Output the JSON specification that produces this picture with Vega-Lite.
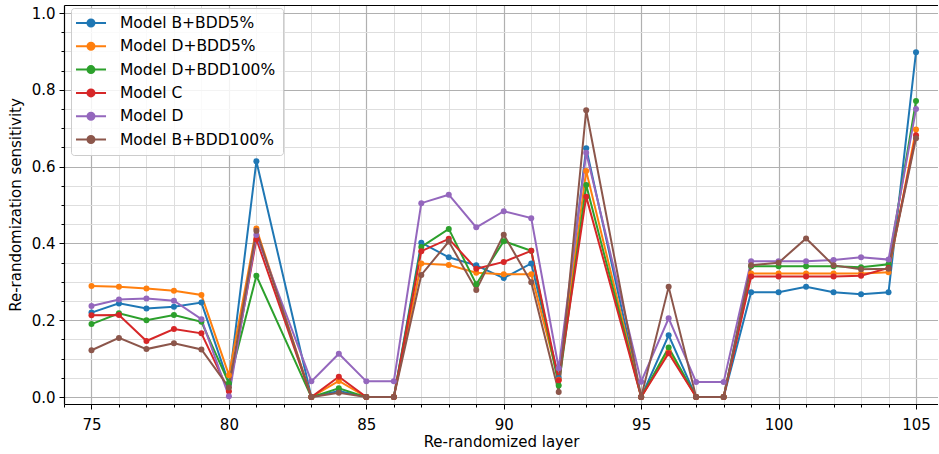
{
  "$schema": "https://vega.github.io/schema/vega-lite/v6.json",
  "width": 874,
  "height": 399,
  "padding": {"left": 8, "top": 5, "right": 0, "bottom": 5},
  "config": {
    "font": "DejaVu Sans",
    "view": {"stroke": null},
    "axis": {
      "domainColor": "#000000",
      "domainWidth": 1.2,
      "tickColor": "#000000",
      "tickWidth": 1,
      "labelColor": "#000000",
      "labelFontSize": 15,
      "titleFontSize": 15,
      "titleFontWeight": "normal",
      "titleColor": "#000000",
      "labelOverlap": false,
      "labelFlush": false
    }
  },
  "data": {
    "values": [
      {"layer": 75, "Model B+BDD5%": 0.220, "Model D+BDD5%": 0.289, "Model D+BDD100%": 0.190, "Model C": 0.213, "Model D": 0.237, "Model B+BDD100%": 0.122},
      {"layer": 76, "Model B+BDD5%": 0.244, "Model D+BDD5%": 0.287, "Model D+BDD100%": 0.218, "Model C": 0.214, "Model D": 0.254, "Model B+BDD100%": 0.154},
      {"layer": 77, "Model B+BDD5%": 0.231, "Model D+BDD5%": 0.283, "Model D+BDD100%": 0.200, "Model C": 0.146, "Model D": 0.257, "Model B+BDD100%": 0.125},
      {"layer": 78, "Model B+BDD5%": 0.235, "Model D+BDD5%": 0.277, "Model D+BDD100%": 0.214, "Model C": 0.177, "Model D": 0.251, "Model B+BDD100%": 0.140},
      {"layer": 79, "Model B+BDD5%": 0.246, "Model D+BDD5%": 0.266, "Model D+BDD100%": 0.196, "Model C": 0.166, "Model D": 0.203, "Model B+BDD100%": 0.124},
      {"layer": 80, "Model B+BDD5%": 0.035, "Model D+BDD5%": 0.057, "Model D+BDD100%": 0.036, "Model C": 0.015, "Model D": 0.002, "Model B+BDD100%": 0.025},
      {"layer": 81, "Model B+BDD5%": 0.614, "Model D+BDD5%": 0.439, "Model D+BDD100%": 0.316, "Model C": 0.411, "Model D": 0.422, "Model B+BDD100%": 0.433},
      {"layer": 83, "Model B+BDD5%": 0.0, "Model D+BDD5%": 0.0, "Model D+BDD100%": 0.0, "Model C": 0.0, "Model D": 0.041, "Model B+BDD100%": 0.0},
      {"layer": 84, "Model B+BDD5%": 0.016, "Model D+BDD5%": 0.042, "Model D+BDD100%": 0.023, "Model C": 0.053, "Model D": 0.113, "Model B+BDD100%": 0.011},
      {"layer": 85, "Model B+BDD5%": 0.0, "Model D+BDD5%": 0.0, "Model D+BDD100%": 0.0, "Model C": 0.0, "Model D": 0.041, "Model B+BDD100%": 0.0},
      {"layer": 86, "Model B+BDD5%": 0.0, "Model D+BDD5%": 0.0, "Model D+BDD100%": 0.0, "Model C": 0.0, "Model D": 0.041, "Model B+BDD100%": 0.0},
      {"layer": 87, "Model B+BDD5%": 0.402, "Model D+BDD5%": 0.348, "Model D+BDD100%": 0.391, "Model C": 0.380, "Model D": 0.505, "Model B+BDD100%": 0.318},
      {"layer": 88, "Model B+BDD5%": 0.364, "Model D+BDD5%": 0.344, "Model D+BDD100%": 0.438, "Model C": 0.412, "Model D": 0.527, "Model B+BDD100%": 0.405},
      {"layer": 89, "Model B+BDD5%": 0.343, "Model D+BDD5%": 0.324, "Model D+BDD100%": 0.294, "Model C": 0.334, "Model D": 0.442, "Model B+BDD100%": 0.279},
      {"layer": 90, "Model B+BDD5%": 0.310, "Model D+BDD5%": 0.320, "Model D+BDD100%": 0.406, "Model C": 0.352, "Model D": 0.484, "Model B+BDD100%": 0.423},
      {"layer": 91, "Model B+BDD5%": 0.348, "Model D+BDD5%": 0.320, "Model D+BDD100%": 0.381, "Model C": 0.381, "Model D": 0.466, "Model B+BDD100%": 0.299},
      {"layer": 92, "Model B+BDD5%": 0.050, "Model D+BDD5%": 0.045, "Model D+BDD100%": 0.030, "Model C": 0.044, "Model D": 0.075, "Model B+BDD100%": 0.013},
      {"layer": 93, "Model B+BDD5%": 0.648, "Model D+BDD5%": 0.589, "Model D+BDD100%": 0.552, "Model C": 0.522, "Model D": 0.636, "Model B+BDD100%": 0.747},
      {"layer": 95, "Model B+BDD5%": 0.0, "Model D+BDD5%": 0.0, "Model D+BDD100%": 0.0, "Model C": 0.0, "Model D": 0.040, "Model B+BDD100%": 0.0},
      {"layer": 96, "Model B+BDD5%": 0.161, "Model D+BDD5%": 0.120, "Model D+BDD100%": 0.129, "Model C": 0.114, "Model D": 0.205, "Model B+BDD100%": 0.287},
      {"layer": 97, "Model B+BDD5%": 0.0, "Model D+BDD5%": 0.0, "Model D+BDD100%": 0.0, "Model C": 0.0, "Model D": 0.039, "Model B+BDD100%": 0.0},
      {"layer": 98, "Model B+BDD5%": 0.0, "Model D+BDD5%": 0.0, "Model D+BDD100%": 0.0, "Model C": 0.0, "Model D": 0.039, "Model B+BDD100%": 0.0},
      {"layer": 99, "Model B+BDD5%": 0.273, "Model D+BDD5%": 0.322, "Model D+BDD100%": 0.341, "Model C": 0.314, "Model D": 0.354, "Model B+BDD100%": 0.343},
      {"layer": 100, "Model B+BDD5%": 0.273, "Model D+BDD5%": 0.322, "Model D+BDD100%": 0.341, "Model C": 0.314, "Model D": 0.354, "Model B+BDD100%": 0.350},
      {"layer": 101, "Model B+BDD5%": 0.287, "Model D+BDD5%": 0.322, "Model D+BDD100%": 0.341, "Model C": 0.314, "Model D": 0.354, "Model B+BDD100%": 0.413},
      {"layer": 102, "Model B+BDD5%": 0.273, "Model D+BDD5%": 0.322, "Model D+BDD100%": 0.341, "Model C": 0.314, "Model D": 0.357, "Model B+BDD100%": 0.343},
      {"layer": 103, "Model B+BDD5%": 0.268, "Model D+BDD5%": 0.322, "Model D+BDD100%": 0.338, "Model C": 0.316, "Model D": 0.364, "Model B+BDD100%": 0.333},
      {"layer": 104, "Model B+BDD5%": 0.273, "Model D+BDD5%": 0.325, "Model D+BDD100%": 0.346, "Model C": 0.336, "Model D": 0.358, "Model B+BDD100%": 0.334},
      {"layer": 105, "Model B+BDD5%": 0.898, "Model D+BDD5%": 0.697, "Model D+BDD100%": 0.771, "Model C": 0.682, "Model D": 0.750, "Model B+BDD100%": 0.674}
    ]
  },
  "transform": [
    {"fold": ["Model B+BDD5%", "Model D+BDD5%", "Model D+BDD100%", "Model C", "Model D", "Model B+BDD100%"], "as": ["model", "value"]}
  ],
  "encoding": {
    "x": {
      "field": "layer",
      "type": "quantitative",
      "scale": {"domain": [74, 105.8], "nice": false, "zero": false},
      "axis": {
        "title": "Re-randomized layer",
        "values": [74, 75, 76, 77, 78, 79, 80, 81, 82, 83, 84, 85, 86, 87, 88, 89, 90, 91, 92, 93, 94, 95, 96, 97, 98, 99, 100, 101, 102, 103, 104, 105],
        "labelExpr": "datum.value % 5 === 0 ? datum.label : ''",
        "tickSize": {"condition": {"test": "datum.value % 5 === 0", "value": 5}, "value": 3},
        "grid": true,
        "gridColor": {"condition": {"test": "datum.value % 5 === 0", "value": "#b0b0b0"}, "value": "#dedede"},
        "gridWidth": {"condition": {"test": "datum.value % 5 === 0", "value": 1.2}, "value": 1},
        "labelPadding": 8,
        "titlePadding": 2
      }
    },
    "y": {
      "field": "value",
      "type": "quantitative",
      "scale": {"domain": [-0.018, 1.021], "nice": false, "zero": false},
      "axis": {
        "title": "Re-randomization sensitivity",
        "values": [0, 0.05, 0.1, 0.15, 0.2, 0.25, 0.3, 0.35, 0.4, 0.45, 0.5, 0.55, 0.6, 0.65, 0.7, 0.75, 0.8, 0.85, 0.9, 0.95, 1.0],
        "labelExpr": "abs(datum.value * 5 - round(datum.value * 5)) < 0.001 ? format(datum.value, '.1f') : ''",
        "tickSize": {"condition": {"test": "abs(datum.value * 5 - round(datum.value * 5)) < 0.001", "value": 5}, "value": 3},
        "grid": true,
        "gridColor": {"condition": {"test": "abs(datum.value * 5 - round(datum.value * 5)) < 0.001", "value": "#b0b0b0"}, "value": "#dedede"},
        "gridWidth": {"condition": {"test": "abs(datum.value * 5 - round(datum.value * 5)) < 0.001", "value": 1.2}, "value": 1},
        "labelPadding": 4,
        "titlePadding": 8
      }
    },
    "color": {
      "field": "model",
      "type": "nominal",
      "sort": null,
      "scale": {
        "domain": ["Model B+BDD5%", "Model D+BDD5%", "Model D+BDD100%", "Model C", "Model D", "Model B+BDD100%"],
        "range": ["#1f77b4", "#ff7f0e", "#2ca02c", "#d62728", "#9467bd", "#8c564b"]
      },
      "legend": {
        "title": null,
        "orient": "none",
        "legendX": 7,
        "legendY": 3,
        "symbolType": "M-1.43,0L2.86,0M1.21,0A0.5,0.5,0,1,1,0.21,0A0.5,0.5,0,1,1,1.21,0Z",
        "symbolSize": 196,
        "symbolStrokeWidth": 2,
        "labelFont": "DejaVu Sans",
        "labelFontSize": 15.5,
        "labelColor": "#000000",
        "labelOffset": 26,
        "padding": 7,
        "rowPadding": 6.3,
        "strokeColor": "#cccccc",
        "fillColor": "rgba(255,255,255,0.85)",
        "cornerRadius": 3,
        "encode": {
          "symbols": {
            "update": {
              "fill": {"scale": "color", "field": "value"},
              "stroke": {"scale": "color", "field": "value"},
              "opacity": {"value": 1}
            }
          }
        }
      }
    }
  },
  "layer": [
    {"mark": {"type": "line", "strokeWidth": 2}},
    {
      "mark": {"type": "point", "filled": true, "size": 36, "opacity": 1},
      "encoding": {
        "x": {
          "field": "layer",
          "type": "quantitative",
          "scale": {"domain": [74, 105.8], "nice": false, "zero": false},
          "axis": {"orient": "top", "labels": false, "ticks": false, "grid": false, "title": null, "domain": true}
        }
      }
    }
  ],
  "resolve": {"axis": {"x": "independent"}}
}
